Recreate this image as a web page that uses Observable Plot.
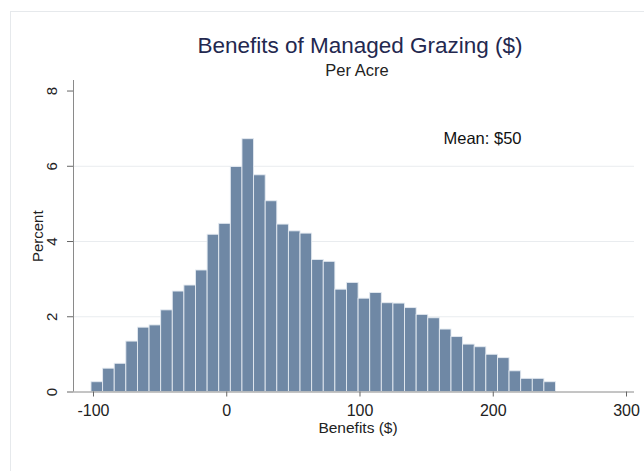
<!DOCTYPE html>
<html>
<head>
<meta charset="utf-8">
<script src="https://cdn.jsdelivr.net/npm/d3@7"></script>
<script src="https://cdn.jsdelivr.net/npm/@observablehq/plot@0.6"></script>
<style>
  html, body { margin: 0; padding: 0; background: #ffffff; overflow: hidden; }
  #wrap { position: relative; width: 644px; height: 471px; overflow: hidden; }
  #frame { position: absolute; left: 10px; top: 11px; width: 700px; height: 500px; border: 1px solid #e6e9ec; box-sizing: border-box; }
  #chart { position: absolute; left: 0; top: 0; }
  svg { font-family: "Liberation Sans", Arial, Helvetica, sans-serif; }
</style>
</head>
<body>
<div id="wrap"><div id="frame"></div><div id="chart"></div></div>
<script>
const binStart = -101.5;     // left edge of first bin ($)
const binWidth = 8.715;      // bin width ($)
const percents = [
  0.26, 0.62, 0.75, 1.34, 1.71, 1.77, 2.17, 2.67, 2.83, 3.23,
  4.18, 4.47, 5.98, 6.72, 5.76, 5.07, 4.45, 4.27, 4.21, 3.51,
  3.46, 2.72, 2.90, 2.48, 2.63, 2.36, 2.35, 2.23, 2.05, 1.96,
  1.66, 1.46, 1.26, 1.19, 0.99, 0.90, 0.55, 0.35, 0.35, 0.26
];
const xTicks = [-100, 0, 100, 200, 300];
const yTicks = [0, 2, 4, 6, 8];
const gridTicks = [2, 4, 6];
const title = "Benefits of Managed Grazing ($)";
const subtitle = "Per Acre";
const meanLabel = "Mean: $50";
const xLabel = "Benefits ($)";
const yLabel = "Percent";

const bins = percents.map((p, i) => ({
  x1: binStart + i * binWidth,
  x2: binStart + (i + 1) * binWidth,
  pct: p
}));

const txt = { fill: "#222", textAnchor: "middle", lineAnchor: "middle" };

const chart = Plot.plot({
  width: 644,
  height: 471,
  marginLeft: 73,
  marginRight: 10,
  marginTop: 80,
  marginBottom: 79.5,
  style: { background: "transparent", fontFamily: "Liberation Sans, Arial, sans-serif", fontSize: "15px", color: "#222" },
  x: { domain: [-115, 306] },
  y: { domain: [0, 8.28] },
  marks: [
    Plot.ruleY(gridTicks, { stroke: "#e9ecef", strokeWidth: 1 }),
    Plot.rectY(bins, { x1: "x1", x2: "x2", y: "pct", fill: "#6f88a5", stroke: "#e4eaf1", strokeWidth: 0.9 }),
    Plot.ruleY([0], { stroke: "#8a8a8a", strokeWidth: 1 }),
    Plot.ruleX([-115], { stroke: "#8a8a8a", strokeWidth: 1 }),
    Plot.axisX({ ticks: xTicks, tickSize: 5, stroke: "#666", tickFormat: () => "", label: null }),
    Plot.axisY({ ticks: yTicks, tickSize: 6, stroke: "#666", tickFormat: () => "", label: null }),
    Plot.text(xTicks, { ...txt, x: d => d, text: d => String(d), frameAnchor: "bottom", dy: 18.5, fontSize: 16 }),
    Plot.text(yTicks, { ...txt, y: d => d, text: d => String(d), frameAnchor: "left", dx: -21, rotate: -90, fontSize: 15 }),
    Plot.text([yLabel], { ...txt, frameAnchor: "left", dx: -35, rotate: -90, fontSize: 15 }),
    Plot.text([xLabel], { ...txt, frameAnchor: "bottom", dx: 4, dy: 36.5, fontSize: 15.5 }),
    Plot.text([title], { ...txt, frameAnchor: "top", dx: 6, dy: -35, fontSize: 22.5, fill: "#23284f" }),
    Plot.text([subtitle], { ...txt, frameAnchor: "top", dx: 3, dy: -10, fontSize: 16.5 }),
    Plot.text([meanLabel], { ...txt, frameAnchor: "top-right", dx: -113, dy: 58, textAnchor: "end", fontSize: 16.5, fill: "#111" })
  ]
});
document.getElementById("chart").appendChild(chart);
</script>
</body>
</html>
